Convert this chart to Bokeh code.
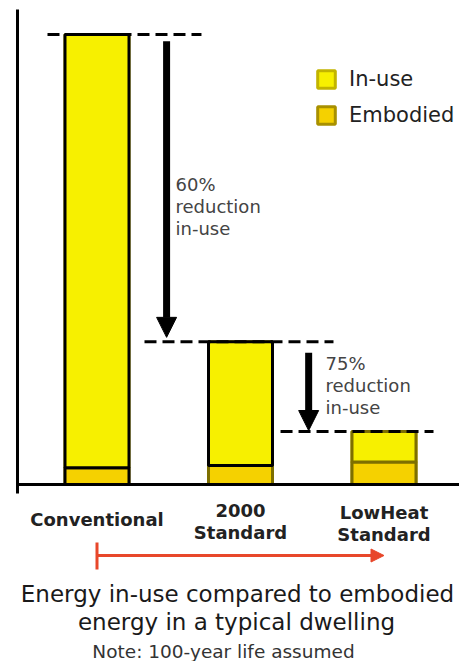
from bokeh.plotting import figure
from bokeh.models import Range1d, Arrow, NormalHead, Legend, LegendItem, FixedTicker
from bokeh.core.properties import value
from bokeh.embed import file_html
from bokeh.resources import INLINE

# ---------------- data ----------------
categories = ["Conventional", "2000 Standard", "LowHeat Standard"]
tick_labels = ["Conventional", "2000\nStandard", "LowHeat\nStandard"]
embodied = [3.7, 4.2, 5.0]          # energy index (Conventional total = 100)
in_use = [96.3, 27.5, 6.8]
reduction_labels = ["60%\nreduction\nin-use", "75%\nreduction\nin-use"]
legend_labels = ["In-use", "Embodied"]
title_lines = ["Energy in-use compared to embodied", "energy in a typical dwelling"]
note_text = "Note: 100-year life assumed"

# ---------------- styles / layout ----------------
INUSE = "#F7F000"
EMB = "#F5D100"
OLIVE = "#7D6F00"
RED = "#E8472A"
PX = 4.5          # px per data unit (vertical)
BASE = 484        # screen y of baseline (for placing annotation text)
XPX = 143.5       # px per category step
X0 = 96.5         # screen x of first category


def sy(px):
    return (BASE - px) / PX


def sx(px):
    return (px - X0) / XPX


xs = list(range(len(categories)))
totals = [e + u for e, u in zip(embodied, in_use)]

p = figure(width=459, height=661, output_backend="svg", toolbar_location=None,
           x_range=Range1d(sx(17), sx(459)), y_range=Range1d(sy(661), sy(0)),
           x_axis_location=None, min_border_left=17, min_border_right=0,
           min_border_top=0, min_border_bottom=0)
p.grid.visible = False
p.outline_line_color = None
p.background_fill_color = "white"

ya = p.yaxis[0]
ya.bounds = (sy(493), sy(9))
ya.ticker = FixedTicker(ticks=[])
ya.axis_line_width = 3
ya.axis_line_color = "black"
ya.major_tick_line_color = None
ya.minor_tick_line_color = None
ya.major_label_standoff = 0
ya.major_tick_out = 0

BW = 0.446
# legend swatch renderers (fully covered by the real bars drawn on top)
r_emb_leg = p.vbar(x=xs, bottom=0, top=embodied, width=BW, fill_color=EMB,
                   line_color="#A89000", line_width=3)
r_in_leg = p.vbar(x=xs, bottom=embodied, top=totals, width=BW, fill_color=INUSE,
                  line_color="#C2B400", line_width=3)

p.vbar(x=xs, bottom=0, top=embodied, width=BW, fill_color=EMB,
       line_color=["black", OLIVE, OLIVE], line_width=3)
p.vbar(x=xs, bottom=embodied, top=totals, width=BW, fill_color=INUSE,
       line_color=["black", "black", OLIVE], line_width=3)

# x axis baseline
p.hspan(y=[0], line_color="black", line_width=3)

# dashed reference lines at each bar total
left_ext = [0.345, 0.669, 0.721]
right_ext = [0.728, 0.648, 0.345]
p.segment(x0=[x - l for x, l in zip(xs, left_ext)], x1=[x + r for x, r in zip(xs, right_ext)],
          y0=totals, y1=totals, line_color="black", line_width=3, line_dash="12 6")

# reduction arrows
arrow_dx = [0.485, 0.475]
gap_start = [1.5, 2.4]
gap_end = [1.0, 0.2]
for i in range(2):
    p.add_layout(Arrow(end=NormalHead(size=20, fill_color="black", line_color="black", line_width=1),
                       x_start=xs[i] + arrow_dx[i], x_end=xs[i] + arrow_dx[i],
                       y_start=totals[i] - gap_start[i], y_end=totals[i + 1] + gap_end[i],
                       line_color="black", line_width=7))

# reduction texts
p.text(x=[sx(175), sx(325)], y=[sy(206), sy(385)], text=reduction_labels,
       text_font=value("DejaVu Sans"), text_font_size="18px", text_color="#444444",
       text_baseline="middle", text_align="left", text_line_height=1.05)

# category labels
p.text(x=xs, y=[sy(519), sy(521), sy(523)], text=tick_labels,
       text_font=value("DejaVu Sans"), text_font_style="bold", text_font_size="18px",
       text_color="#222222", text_baseline="middle", text_align="center",
       text_line_height=1.05)

# red arrow from first to last category
p.segment(x0=[xs[0]], x1=[xs[0]], y0=[sy(542)], y1=[sy(569)], line_color=RED, line_width=3)
p.add_layout(Arrow(end=NormalHead(size=13, fill_color=RED, line_color=RED, line_width=1),
                   x_start=xs[0], x_end=xs[-1], y_start=sy(555), y_end=sy(555),
                   line_color=RED, line_width=3))

# title + note
p.text(x=[sx(237), sx(236)], y=[sy(593), sy(621)], text=title_lines,
       text_font=value("DejaVu Sans"), text_font_size="23px", text_color="#1a1a1a",
       text_baseline="alphabetic", text_align="center")
p.text(x=[sx(223)], y=[sy(651)], text=[note_text],
       text_font=value("DejaVu Sans"), text_font_size="18.5px", text_color="#333333",
       text_baseline="alphabetic", text_align="center")

# legend
legend = Legend(items=[LegendItem(label=legend_labels[0], renderers=[r_in_leg], index=0),
                       LegendItem(label=legend_labels[1], renderers=[r_emb_leg], index=0)],
                location=(298, 534), glyph_width=22, glyph_height=22, spacing=12,
                padding=0, margin=0, label_standoff=12, border_line_alpha=0,
                background_fill_alpha=0, label_text_font="DejaVu Sans",
                label_text_font_size="21px", label_height=22, label_text_color="#222222")
p.add_layout(legend)

open("out.html", "w").write(file_html(p, INLINE))
